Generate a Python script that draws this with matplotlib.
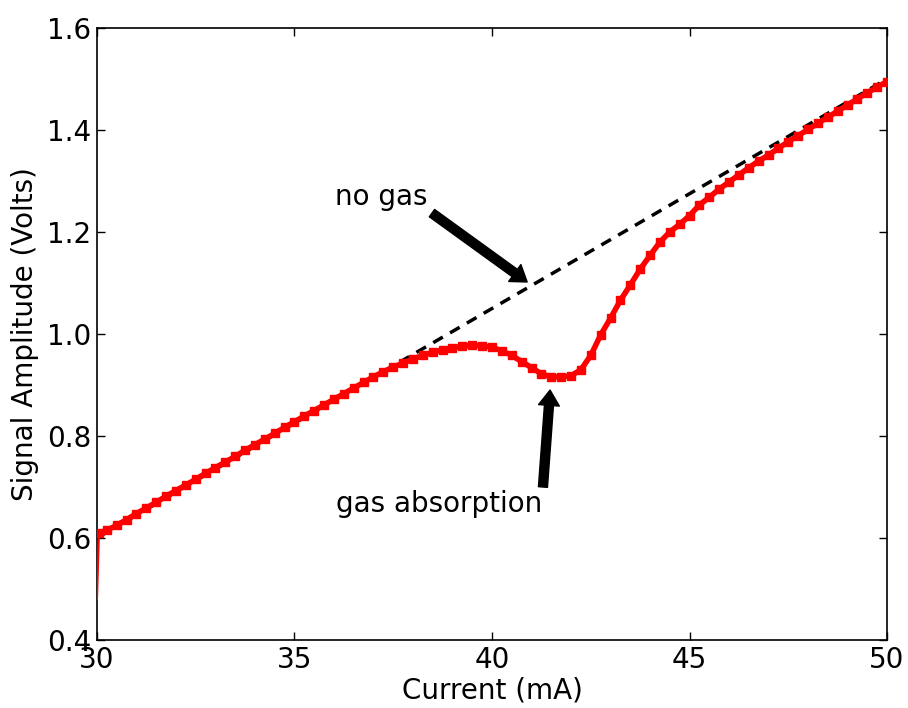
"""
Laser signal vs drive current, with and without gas absorption
"""
import matplotlib
matplotlib.use("Agg")
import matplotlib.pyplot as plt

current = [30.0, 30.05, 30.25, 30.5, 30.75, 31.0, 31.25, 31.5, 31.75, 32.0,
           32.25, 32.5, 32.75, 33.0, 33.25, 33.5, 33.75, 34.0, 34.25, 34.5,
           34.75, 35.0, 35.25, 35.5, 35.75, 36.0, 36.25, 36.5, 36.75, 37.0,
           37.25, 37.5, 37.75, 38.0, 38.25, 38.5, 38.75, 39.0, 39.25, 39.5,
           39.75, 40.0, 40.25, 40.5, 40.75, 41.0, 41.25, 41.5, 41.75, 42.0,
           42.25, 42.5, 42.75, 43.0, 43.25, 43.5, 43.75, 44.0, 44.25, 44.5,
           44.75, 45.0, 45.25, 45.5, 45.75, 46.0, 46.25, 46.5, 46.75, 47.0,
           47.25, 47.5, 47.75, 48.0, 48.25, 48.5, 48.75, 49.0, 49.25, 49.5,
           49.75, 50.0]
signal = [0.48, 0.61, 0.615, 0.625, 0.636, 0.648, 0.659, 0.670, 0.682, 0.693,
          0.704, 0.715, 0.727, 0.738, 0.749, 0.760, 0.772, 0.783, 0.794, 0.805,
          0.817, 0.828, 0.839, 0.850, 0.861, 0.872, 0.883, 0.894, 0.905, 0.916,
          0.926, 0.935, 0.943, 0.951, 0.958, 0.964, 0.969, 0.973, 0.976, 0.978,
          0.977, 0.974, 0.967, 0.958, 0.946, 0.934, 0.922, 0.916, 0.916, 0.918,
          0.930, 0.958, 0.998, 1.031, 1.066, 1.096, 1.127, 1.154, 1.180, 1.200,
          1.215, 1.232, 1.253, 1.268, 1.284, 1.298, 1.312, 1.326, 1.339, 1.351,
          1.364, 1.377, 1.389, 1.401, 1.413, 1.425, 1.437, 1.449, 1.461, 1.473,
          1.484, 1.495]

# baseline without gas (straight line)
baseline_current = [30.0, 50.0]
baseline_signal = [0.600, 1.500]

plt.rcParams['font.family'] = ['DejaVu Sans']
plt.rcParams['font.size'] = 20
plt.rcParams['lines.scale_dashes'] = False

fig = plt.figure(figsize=(9.08, 7.08), dpi=100)
ax = fig.add_axes([0.1068, 0.096, 0.8701, 0.8645])

ax.plot(baseline_current, baseline_signal, color='black', linewidth=2.5,
        dashes=(8, 6), zorder=2)
# switch-on transient: thin line only
ax.plot(current[:2], signal[:2], color='red', linewidth=1.5, zorder=3)
ax.plot(current[1:], signal[1:], color='red', linewidth=4, marker='s',
        markersize=5.5, markeredgecolor='red', zorder=3)

ax.set_xlim(30, 50)
ax.set_ylim(0.4, 1.6)
ax.set_xticks([30, 35, 40, 45, 50])
ax.set_yticks([0.4, 0.6, 0.8, 1.0, 1.2, 1.4, 1.6])
ax.set_yticklabels(['0.4', '0.6', '0.8', '1.0', '1.2', '1.4', '1.6'])
ax.tick_params(direction='in', length=6, width=1, top=True, right=True,
               labelsize=20, pad=4)
for s in ax.spines.values():
    s.set_linewidth(1.2)

ax.set_xlabel('Current (mA)', fontsize=20, labelpad=2)
ax.set_ylabel('Signal Amplitude (Volts)', fontsize=20, labelpad=6)

# annotations
arrow = dict(facecolor='black', edgecolor='black', width=6.5,
             headwidth=15, headlength=11, shrink=0)
ax.text(36.03, 1.253, 'no gas', fontsize=20, va='baseline', ha='left')
ax.annotate('', xy=(40.89, 1.102), xytext=(38.48, 1.237), arrowprops=arrow)
ax.text(36.06, 0.651, 'gas absorption', fontsize=20, va='baseline', ha='left')
ax.annotate('', xy=(41.47, 0.890), xytext=(41.29, 0.700), arrowprops=arrow)

fig.savefig('out.png', dpi=100, facecolor='white')
plt.close(fig)
